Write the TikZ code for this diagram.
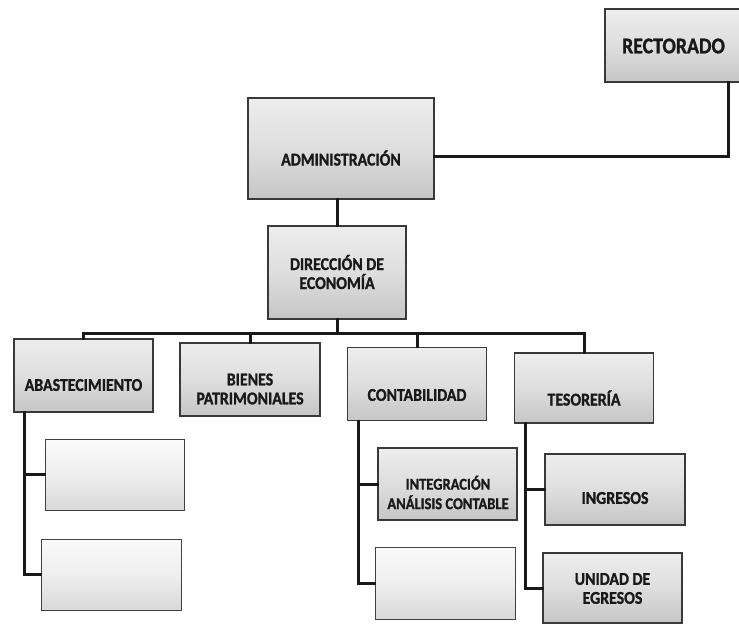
\documentclass[tikz,border=0pt]{standalone}
\usepackage{fontspec}
\setmainfont{Carlito}
\newfontfamily\condfont[FakeStretch=0.88,FakeBold=1.2]{Carlito}
\begin{document}
\begin{tikzpicture}[x=1pt,y=-1pt,
  box/.style={draw=gray!45!black, line width=1.1pt, top color=gray!14, bottom color=gray!45,
    middle color=gray!26, inner sep=0pt, rectangle},
  fadebox/.style={draw=gray!50!black, line width=1pt, top color=gray!4, bottom color=gray!30,
    middle color=gray!13, inner sep=0pt, rectangle},
  txt/.style={font=\condfont\fontsize{18}{19}\selectfont\bfseries, align=center, text=black!90, inner sep=0pt},
  bigtxt/.style={font=\condfont\fontsize{22.5}{24}\selectfont\bfseries, text=black!90, inner sep=0pt},
  conn/.style={line width=3pt, black!90, line cap=rect}]
\useasboundingbox (0,0) rectangle (739,630);
\fill[white] (0,0) rectangle (739,630);

% top level
\node[box, minimum width=140pt, minimum height=73pt] (rect) at (675,45.5) {};
\node[bigtxt] (rectT) at (673.5,46) {RECTORADO};

\node[box, minimum width=186pt, minimum height=101pt] (admin) at (341,148.5) {};
\node[txt] (adminT) at (341,158) {ADMINISTRACIÓN};

\node[box, minimum width=138pt, minimum height=93pt] (dir) at (337,272.5) {};
\node[txt] (dirT) at (337,272) {DIRECCIÓN DE\\ECONOMÍA};

% second level
\node[box, minimum width=139pt, minimum height=73pt] (abast) at (83.5,375.5) {};
\node[txt] (abastT) at (83.5,385) {ABASTECIMIENTO};

\node[box, minimum width=140pt, minimum height=73pt] (bienes) at (250,379.5) {};
\node[txt] (bienesT) at (250,389) {BIENES\\PATRIMONIALES};

\node[box, minimum width=139pt, minimum height=73pt] (conta) at (417,384) {};
\node[txt] (contaT) at (417,395) {CONTABILIDAD};

\node[box, minimum width=139pt, minimum height=70pt] (teso) at (584,388) {};
\node[txt] (tesoT) at (584,398) {TESORERÍA};

% third level
\node[fadebox, minimum width=139pt, minimum height=71pt] (a1) at (114.5,474.5) {};
\node[fadebox, minimum width=140pt, minimum height=71pt] (a2) at (111,574.5) {};

\node[box, minimum width=139pt, minimum height=72pt] (c1) at (447.5,484) {};
\node[txt, font=\condfont\fontsize{16.5}{19.5}\selectfont\bfseries] (c1T) at (448,492.5) {INTEGRACIÓN\\ANÁLISIS CONTABLE};
\node[fadebox, minimum width=140pt, minimum height=72pt] (c2) at (445,583) {};

\node[box, minimum width=140pt, minimum height=71pt] (t1) at (615,489.5) {};
\node[txt] (t1T) at (615,498) {INGRESOS};
\node[box, minimum width=139pt, minimum height=70pt] (t2) at (612.5,588) {};
\node[txt] (t2T) at (612.5,588.5) {UNIDAD DE\\EGRESOS};

% connectors
\coordinate (rk) at (728,156);
\draw[conn] (rect.south -| rk) -- (rk) -- (admin.east |- rk);
\draw[conn] (admin.south -| dir.north) -- (dir.north);

\coordinate (bus) at (0,333);
\draw[conn] (dir.south) -- (dir.south |- bus);
\draw[conn] (abast.north |- bus) -- (teso.north |- bus);
\foreach \n in {abast,bienes,conta,teso}
  \draw[conn] (\n.north |- bus) -- (\n.north);

\coordinate (av) at (24,0);
\draw[conn] (abast.south -| av) |- (a2.west);
\draw[conn] (a1.west -| av) -- (a1.west);

\coordinate (cv) at (358,0);
\draw[conn] (conta.south -| cv) |- (c2.west);
\draw[conn] (c1.west -| cv) -- (c1.west);

\coordinate (tv) at (525,0);
\draw[conn] (teso.south -| tv) |- (t2.west);
\draw[conn] (t1.west -| tv) -- (t1.west);
\end{tikzpicture}
\end{document}
